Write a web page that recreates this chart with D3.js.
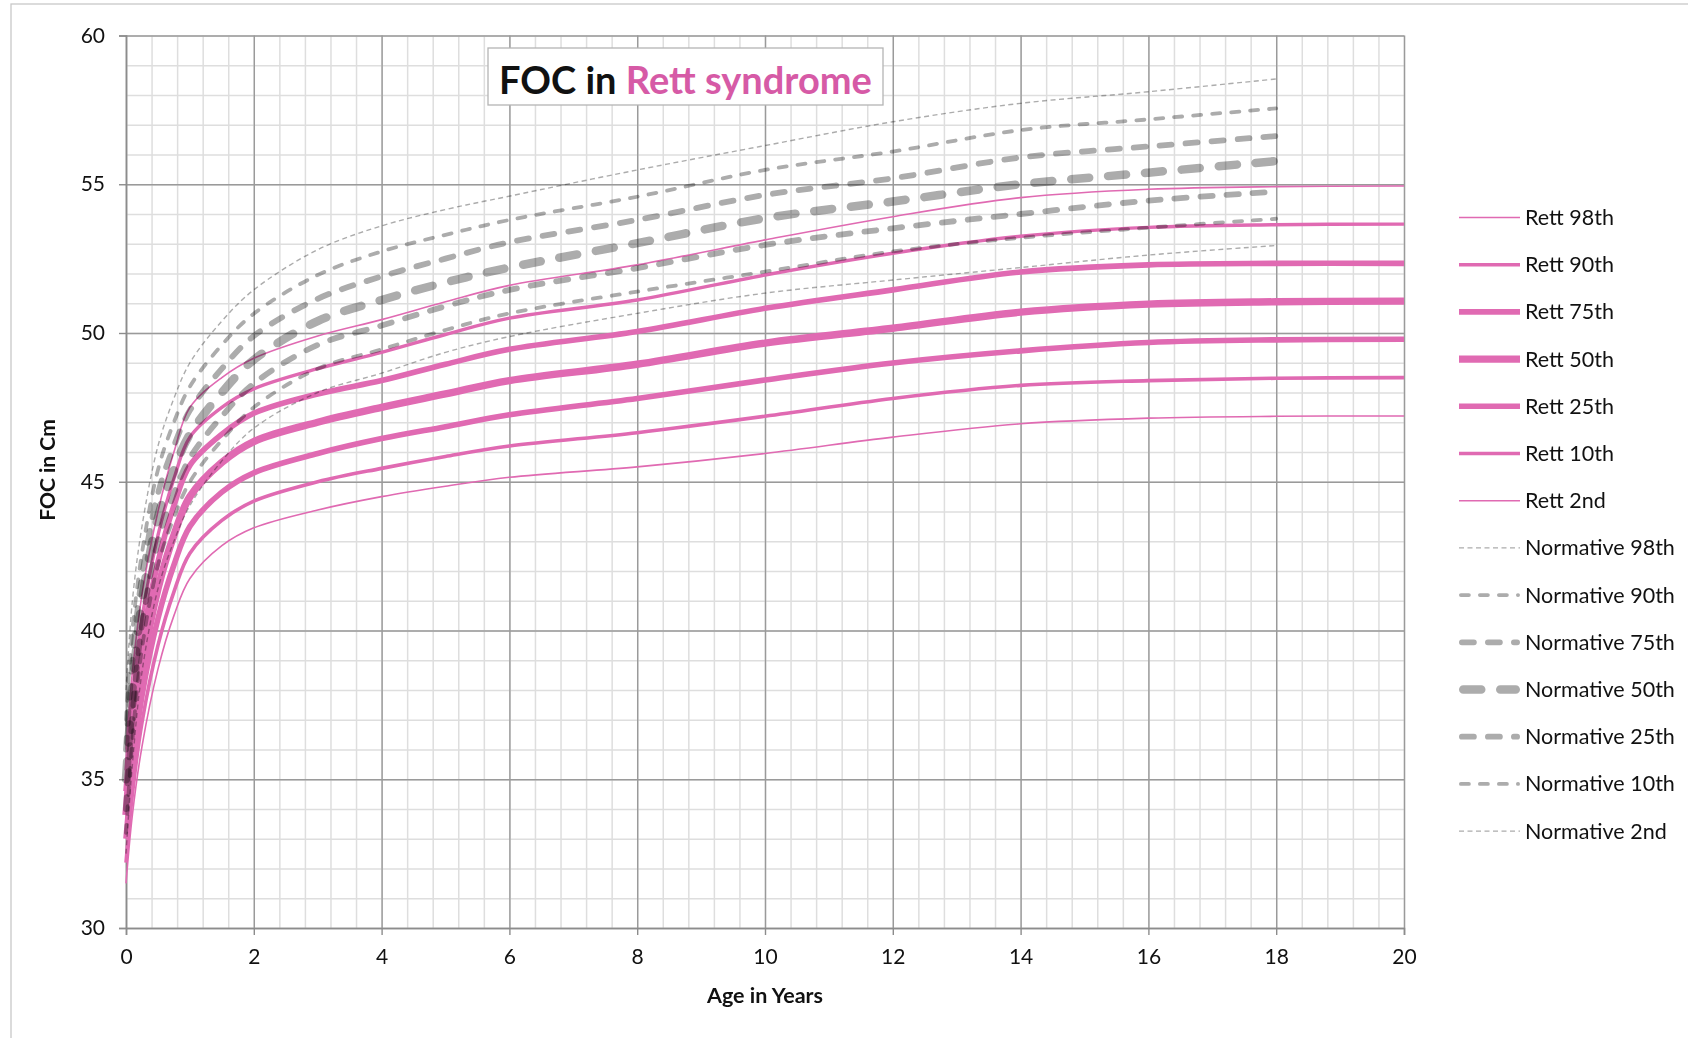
<!DOCTYPE html>
<html>
<head>
<meta charset="utf-8">
<script src="https://cdn.jsdelivr.net/npm/d3@7"></script>
<style>
  body { margin: 0; background: #fff; }
  svg text { font-family: Lato, 'Open Sans', sans-serif; fill: #111; }
</style>
</head>
<body>
<div id="chart"></div>
<script>

// ages (years) the curves were read at
const ages_rett = [0, 0.1, 0.25, 0.5, 0.75, 1, 1.5, 2, 3, 4, 5, 6, 8, 10, 12, 14, 16, 18, 20];
const ages_norm = [0, 0.1, 0.25, 0.5, 0.75, 1, 1.5, 2, 3, 4, 5, 6, 8, 10, 12, 14, 16, 18];

// Rett syndrome centiles, FOC in cm
const rett_98 = [36.0, 38.6, 41.2, 44.0, 46.0, 47.5, 48.5, 49.15, 49.9, 50.45, 51.05, 51.6, 52.29, 53.13, 53.91, 54.55, 54.83, 54.92, 54.94];
const rett_90 = [35.3, 37.8, 40.4, 43.2, 45.1, 46.5, 47.5, 48.12, 48.8, 49.35, 49.95, 50.5, 51.11, 51.95, 52.68, 53.25, 53.55, 53.64, 53.66];
const rett_75 = [34.6, 37.0, 39.6, 42.3, 44.2, 45.55, 46.6, 47.3, 47.95, 48.4, 48.95, 49.45, 50.05, 50.83, 51.45, 52.05, 52.29, 52.34, 52.34];
const rett_50 = [33.8, 36.2, 38.7, 41.4, 43.2, 44.5, 45.65, 46.35, 47.0, 47.5, 47.95, 48.4, 48.95, 49.66, 50.16, 50.7, 50.97, 51.05, 51.07];
const rett_25 = [33.0, 35.3, 37.8, 40.4, 42.2, 43.5, 44.65, 45.3, 45.95, 46.45, 46.85, 47.25, 47.8, 48.42, 48.99, 49.4, 49.68, 49.77, 49.79];
const rett_10 = [32.2, 34.5, 36.9, 39.5, 41.3, 42.6, 43.7, 44.35, 45.0, 45.45, 45.85, 46.2, 46.65, 47.2, 47.8, 48.24, 48.4, 48.48, 48.5];
const rett_2  = [31.5, 33.8, 36.1, 38.7, 40.5, 41.75, 42.85, 43.45, 44.05, 44.5, 44.85, 45.15, 45.5, 45.95, 46.5, 46.95, 47.14, 47.2, 47.21];

// normative centiles, FOC in cm
const norm_98 = [38.0, 41.0, 43.5, 46.2, 47.8, 49.0, 50.4, 51.45, 52.8, 53.6, 54.15, 54.6, 55.48, 56.3, 57.1, 57.72, 58.11, 58.54];
const norm_90 = [37.0, 40.0, 42.6, 45.4, 47.0, 48.2, 49.6, 50.65, 51.95, 52.74, 53.3, 53.8, 54.58, 55.48, 56.1, 56.82, 57.18, 57.55];
const norm_75 = [36.0, 39.0, 41.8, 44.6, 46.2, 47.4, 48.8, 49.9, 51.15, 51.9, 52.5, 53.05, 53.8, 54.64, 55.2, 55.9, 56.27, 56.62];
const norm_50 = [35.0, 38.0, 41.0, 43.8, 45.4, 46.6, 48.0, 49.1, 50.4, 51.11, 51.7, 52.2, 53.02, 53.86, 54.42, 55.0, 55.39, 55.78];
const norm_25 = [34.0, 37.1, 40.2, 43.0, 44.6, 45.8, 47.2, 48.3, 49.6, 50.25, 50.9, 51.45, 52.18, 52.96, 53.52, 54.0, 54.45, 54.75];
const norm_10 = [33.2, 36.3, 39.4, 42.2, 43.8, 45.0, 46.4, 47.5, 48.8, 49.45, 50.1, 50.66, 51.39, 52.06, 52.74, 53.2, 53.54, 53.84];
const norm_2  = [32.5, 35.5, 38.6, 41.4, 43.0, 44.2, 45.7, 46.8, 48.0, 48.65, 49.35, 49.88, 50.66, 51.34, 51.78, 52.2, 52.62, 52.94];

const centile_names = ['98th', '90th', '75th', '50th', '25th', '10th', '2nd'];
const x_ticks = [0, 2, 4, 6, 8, 10, 12, 14, 16, 18, 20];
const y_ticks = [30, 35, 40, 45, 50, 55, 60];

const width = 1688, height = 1038;
const margin = {left: 126, right: 1404, top: 35.5, bottom: 928};
const pink = '#e06ab2';
const grey = '#acacac';

// line styles, per centile (98th .. 2nd)
const rett_widths = [1.6, 3.4, 5.6, 7.4, 5.6, 3.6, 1.6];
const norm_styles = [
    {w: 1.4, dash: '5,3.5', cap: 'butt'},
    {w: 3.8, dash: '8,11', cap: 'round'},
    {w: 5.8, dash: '12,14', cap: 'round'},
    {w: 8.5, dash: '18,19', cap: 'round'},
    {w: 5.8, dash: '12,14', cap: 'round'},
    {w: 3.8, dash: '8,11', cap: 'round'},
    {w: 1.4, dash: '5,3.5', cap: 'butt'}
];

const x = d3.scaleLinear().domain([0, 20]).range([margin.left, margin.right]);
const y = d3.scaleLinear().domain([30, 60]).range([margin.bottom, margin.top]);
const plotW = margin.right - margin.left;
const plotH = margin.bottom - margin.top;

const svg = d3.select('#chart').append('svg')
    .attr('width', width)
    .attr('height', height);

// outer frame
svg.append('rect')
    .attr('x', 11).attr('y', 4)
    .attr('width', width + 20).attr('height', height + 20)
    .attr('fill', 'none')
    .attr('stroke', '#c8c8c8')
    .attr('stroke-width', 1.3);

// grids: minor then major
function grid(cls, xs, ys, colour, sw) {
    const g = svg.append('g').classed(cls, true);
    g.append('g')
        .attr('transform', 'translate(0,' + margin.bottom + ')')
        .call(d3.axisBottom(x).tickValues(xs).tickSize(-plotH).tickFormat(''));
    g.append('g')
        .attr('transform', 'translate(' + margin.left + ',0)')
        .call(d3.axisLeft(y).tickValues(ys).tickSize(-plotW).tickFormat(''));
    g.selectAll('.domain').remove();
    g.selectAll('line').attr('stroke', colour).attr('stroke-width', sw);
}
grid('grid_minor', d3.range(0, 20.01, 0.4), d3.range(30, 60.01, 1), '#dedede', 1.5);
grid('grid_major', x_ticks, y_ticks, '#9a9a9a', 1.4);

// axes
const xAxis = svg.append('g')
    .attr('transform', 'translate(0,' + margin.bottom + ')')
    .call(d3.axisBottom(x).tickValues(x_ticks).tickSize(7).tickPadding(14));
const yAxis = svg.append('g')
    .attr('transform', 'translate(' + margin.left + ',0)')
    .call(d3.axisLeft(y).tickValues(y_ticks).tickSize(7).tickPadding(14));
[xAxis, yAxis].forEach(function(a) {
    a.select('.domain').attr('stroke', '#8c8c8c').attr('stroke-width', 1.6);
    a.selectAll('line').attr('stroke', '#8c8c8c').attr('stroke-width', 1.4);
    a.selectAll('text')
        .style('font-family', 'Lato, sans-serif')
        .style('font-size', '21px')
        .attr('fill', '#111');
});

svg.append('text')
    .attr('x', (margin.left + margin.right) / 2)
    .attr('y', 1003)
    .attr('text-anchor', 'middle')
    .style('font-size', '21.5px')
    .style('font-weight', 'bold')
    .text('Age in Years');

svg.append('text')
    .attr('transform', 'translate(55,' + 470 + ') rotate(-90)')
    .attr('text-anchor', 'middle')
    .style('font-size', '21px')
    .style('font-weight', 'bold')
    .text('FOC in Cm');

// series
const line = d3.line()
    .x(function(d) { return x(d[0]); })
    .y(function(d) { return y(d[1]); })
    .curve(d3.curveCatmullRom.alpha(0.5));

const rett_series = [rett_98, rett_90, rett_75, rett_50, rett_25, rett_10, rett_2];
const norm_series = [norm_98, norm_90, norm_75, norm_50, norm_25, norm_10, norm_2];

svg.append('g')
    .classed('rett_lines', true)
    .selectAll('path')
    .data(rett_series)
    .join('path')
    .attr('d', function(d) { return line(d3.zip(ages_rett, d)); })
    .attr('fill', 'none')
    .attr('stroke', pink)
    .attr('stroke-width', function(d, i) { return rett_widths[i]; });

svg.append('g')
    .classed('norm_lines', true)
    .selectAll('path')
    .data(norm_series)
    .join('path')
    .attr('d', function(d) { return line(d3.zip(ages_norm, d)); })
    .attr('fill', 'none')
    .attr('stroke', grey)
    .attr('stroke-width', function(d, i) { return norm_styles[i].w; })
    .attr('stroke-dasharray', function(d, i) { return norm_styles[i].dash; })
    .attr('stroke-linecap', function(d, i) { return norm_styles[i].cap; })
    .style('mix-blend-mode', 'multiply');

// title box
const title = svg.append('g');
title.append('rect')
    .attr('x', 488).attr('y', 48)
    .attr('width', 395).attr('height', 57)
    .attr('fill', '#fff')
    .attr('stroke', '#b4b4b4')
    .attr('stroke-width', 1.3);
const tt = title.append('text')
    .attr('x', 685.5).attr('y', 94)
    .attr('text-anchor', 'middle')
    .style('font-size', '38px')
    .style('font-weight', 'bold');
tt.append('tspan').attr('fill', '#111').text('FOC in ');
tt.append('tspan').attr('fill', '#d65aa6').text('Rett syndrome');

// legend
const legend_items = centile_names.map(function(n, i) {
    return {label: 'Rett ' + n, stroke: pink, w: rett_widths[i], dash: null, cap: 'butt'};
}).concat(centile_names.map(function(n, i) {
    return {label: 'Normative ' + n, stroke: grey, w: norm_styles[i].w,
            dash: norm_styles[i].dash, cap: norm_styles[i].cap};
}));

const leg = svg.append('g')
    .selectAll('g')
    .data(legend_items)
    .join('g')
    .attr('transform', function(d, i) { return 'translate(1459,' + (217.5 + i * 47.2) + ')'; });

leg.append('line')
    .attr('x1', function(d) { return d.cap === 'round' ? d.w / 2 : 0; })
    .attr('x2', function(d) { return d.cap === 'round' ? 61 - d.w / 2 : 61; })
    .attr('stroke', function(d) { return d.stroke; })
    .attr('stroke-width', function(d) { return d.w; })
    .attr('stroke-dasharray', function(d) { return d.dash; })
    .attr('stroke-linecap', function(d) { return d.cap; });

leg.append('text')
    .attr('x', 66)
    .attr('dy', '.35em')
    .style('font-size', '21.5px')
    .text(function(d) { return d.label; });

</script>
</body>
</html>
